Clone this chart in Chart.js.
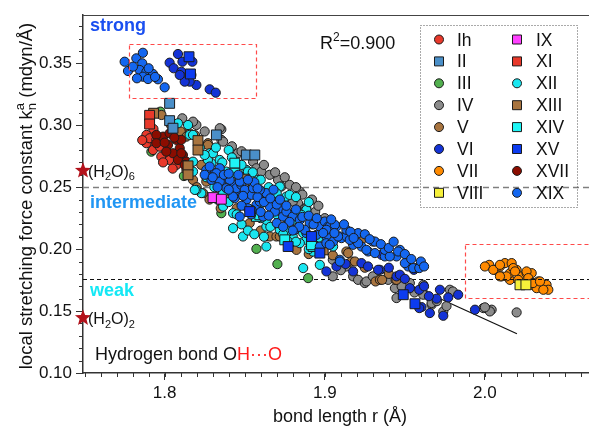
<!DOCTYPE html>
<html>
<head>
<meta charset="utf-8">
<title>OH···O local stretching force constants</title>
<script src="https://cdn.jsdelivr.net/npm/chart.js@4.4.1/dist/chart.umd.min.js"></script>
<style>
  html, body { margin: 0; padding: 0; background: #fff; }
  #wrap { width: 589px; height: 428px; }
</style>
</head>
<body>
<div id="wrap"><canvas id="chart" width="589" height="428"></canvas></div>
<script>
const FONT = "'Liberation Sans', Arial, sans-serif";

// axis ticks
const xTickValues = [1.8, 1.9, 2.0];
const yTickValues = [0.10, 0.15, 0.20, 0.25, 0.30, 0.35];

// strong / intermediate / weak limits on k
const strongLimit = 0.25;
const weakLimit = 0.176;

// water clusters marked on the k axis
const refNames = ['6', '2'];
const refValues = [0.2634, 0.1444];

// linear fit of k against r
const fitSlope = -0.59;
const fitIntercept = 1.3235;
const fitRange = [1.93, 2.02];
const fitR2 = '0.900';

// ice phases: [r (Å), k (mdyn/Å)]
const ihPoints = [[1.7886,0.2922],[1.7917,0.2855],[1.7948,0.2908],[1.7886,0.2855],[1.7927,0.2800],[1.7969,0.2827],[1.8010,0.2774],[1.7906,0.2895],[1.7979,0.2747],[1.8031,0.2720],[1.8073,0.2680],[1.7948,0.2882],[1.7930,0.2970],[1.7860,0.2880],[1.7990,0.2700],[1.8050,0.2650]];
const iiPoints = [[1.8031,0.3177],[1.8031,0.3037],[1.8052,0.2976],[1.8323,0.2922],[1.8510,0.2760],[1.8563,0.2760]];
const iiiPoints = [[1.7973,0.3110],[1.8120,0.2590],[1.8354,0.2290],[1.8573,0.2002],[1.8704,0.1879],[1.8896,0.1766],[1.8800,0.2021],[1.8823,0.2020],[1.7917,0.2787],[1.8160,0.2640]];
const ivPoints = [[1.8110,0.3056],[1.8198,0.3002],[1.8177,0.3029],[1.8354,0.2967],[1.8344,0.2976],[1.8354,0.2882],[1.8365,0.2868],[1.8458,0.2774],[1.8510,0.2760],[1.8552,0.2706],[1.8573,0.2653],[1.8604,0.2626],[1.8656,0.2600],[1.8708,0.2559],[1.8729,0.2505],[1.8780,0.2519],[1.8780,0.2424],[1.8833,0.2371],[1.8844,0.2465],[1.8800,0.2384],[1.8875,0.2330],[1.8885,0.2330],[1.8940,0.2300],[1.9000,0.2250],
  [1.8250,0.2950],[1.8420,0.2830],[1.8480,0.2790],[1.8620,0.2680],[1.8690,0.2620],[1.8750,0.2580],[1.8820,0.2500],[1.8860,0.2440],[1.8920,0.2400],[1.8960,0.2350],
  [1.9050,0.1914],[1.9135,0.1860],[1.9177,0.1780],[1.9208,0.1752],[1.9250,0.1726],[1.9260,0.1739],[1.9396,0.1752],[1.9438,0.1685],[1.9448,0.1605],[1.9531,0.1726],[1.9615,0.1712],[1.9615,0.1645],[1.9615,0.1632],[1.9667,0.1551],[1.9667,0.1565],[1.9740,0.1497],[1.9781,0.1672],[1.9800,0.1658],[1.9990,0.1524],[2.0042,0.1511],[2.0031,0.1497],[2.0000,0.1530],[2.0198,0.1489],[1.9050,0.1780],
  [1.9100,0.1830],[1.9300,0.1780],[1.9480,0.1700],[1.9560,0.1650],[1.9700,0.1580],[1.9760,0.1540]];
const vPoints = [[1.7980,0.3083],[1.8114,0.2935],[1.8136,0.2935],[1.8156,0.2935],[1.8100,0.2950],[1.8136,0.2908],[1.8270,0.2855],[1.8270,0.2841],[1.8136,0.2640],[1.8229,0.2680],[1.8260,0.2545],[1.8177,0.2559],[1.8510,0.2573],[1.8531,0.2210],[1.8656,0.2102],[1.8698,0.2102],[1.8719,0.2102],[1.8823,0.1994],[1.8990,0.2020],[1.9229,0.2075],[1.9135,0.1981],[1.9146,0.1968],[1.9167,0.1900],[1.9188,0.1900],[1.9317,0.1739],[1.9344,0.1752],[1.9358,0.1752],[1.9442,0.1752],[1.9448,0.1752],[1.8400,0.2420],[1.8450,0.2330],[1.8240,0.2452],[1.8200,0.2500],
  [1.8280,0.2400],[1.8350,0.2330],[1.8600,0.2150],[1.8780,0.2050],[1.8900,0.1960],[1.9050,0.1950],[1.9250,0.1850],[1.9400,0.1800],[1.8040,0.3000],[1.8190,0.2920]];
const viPoints = [[1.8083,0.3575],[1.8031,0.3505],[1.8111,0.3513],[1.8056,0.3460],[1.8104,0.3432],[1.8136,0.3387],[1.8167,0.3406],[1.8198,0.3325],[1.8156,0.3352],[1.8173,0.3513],[1.8281,0.3290],[1.8319,0.3263],[1.8125,0.3352],[1.8094,0.3406],
  [1.9010,0.1820],[1.9229,0.1887],[1.9344,0.1833],[1.9448,0.1780],[1.9531,0.1685],[1.9604,0.1532],[1.9656,0.1484],[1.9740,0.1462],[1.9719,0.1672],[1.9771,0.1610],[1.9833,0.1632],[1.9938,0.1511],[1.9354,0.1954],[1.9177,0.1820],[1.9469,0.1793],[1.9590,0.1672],[1.9333,0.1833],[1.9556,0.1833],[1.9698,0.1600],[1.9590,0.1524],[1.9073,0.1860],
  [1.9130,0.1880],[1.9270,0.1860],[1.9400,0.1850],[1.9500,0.1760],[1.9620,0.1700],[1.9650,0.1620]];
const viiPoints = [[2.0027,0.1873],[2.0063,0.1833],[2.0094,0.1860],[2.0125,0.1887],[2.0167,0.1887],[2.0104,0.1780],[2.0156,0.1752],[2.0156,0.1806],[2.0198,0.1833],[2.0229,0.1780],[2.0260,0.1806],[2.0292,0.1806],[2.0292,0.1712],[2.0333,0.1739],[2.0354,0.1685],[2.0385,0.1712],[2.0396,0.1672],[2.0323,0.1685],[2.0000,0.1860],[2.0177,0.1847],[2.0135,0.1780],[2.0052,0.1833],[2.0094,0.1873],[2.0188,0.1820],[2.0094,0.1780],[2.0260,0.1820],[2.0271,0.1766],[2.0300,0.1726],[2.0365,0.1672],[2.0344,0.1739],[2.0208,0.1752]];
const viiiPoints = [[2.0219,0.1712],[2.0256,0.1712]];
const ixPoints = [[1.8302,0.2416],[1.8354,0.2403]];
const xiPoints = [[1.7906,0.3080],[1.7906,0.3010]];
const xiiPoints = [[1.8083,0.3016],[1.8156,0.2922],[1.8146,0.3002],[1.8177,0.2922],[1.8281,0.2774],[1.8292,0.2694],[1.8344,0.2720],[1.8177,0.2706],[1.8177,0.2626],[1.8385,0.2626],[1.8510,0.2640],[1.8469,0.2559],[1.8365,0.2452],[1.8229,0.2452],[1.8198,0.2478],[1.8270,0.2720],[1.8302,0.2774],[1.8188,0.2478],[1.8365,0.2344],[1.8427,0.2290],[1.8510,0.2452],[1.8604,0.2371],[1.8677,0.2398],[1.8635,0.2182],[1.8760,0.2424],[1.8719,0.2505],[1.8800,0.2236],[1.8865,0.2129],[1.8885,0.2317],[1.8520,0.2626],[1.8583,0.2559],[1.8688,0.2452],[1.8780,0.2438],[1.8594,0.2303],[1.8635,0.2236],[1.8719,0.2156],[1.8800,0.2102],[1.8885,0.2075],[1.8948,0.2048],[1.9052,0.2021],[1.8854,0.2277],[1.8635,0.2021],[1.8427,0.2169],[1.8489,0.2102],[1.8771,0.2061],[1.8865,0.1847],[1.8844,0.2048],[1.8927,0.1980],[1.8969,0.1873],[1.8771,0.2142],
  [1.8220,0.2820],[1.8250,0.2760],[1.8320,0.2820],[1.8400,0.2800],[1.8260,0.2580],[1.8310,0.2500],[1.8330,0.2400],[1.8400,0.2380],[1.8450,0.2280],[1.8480,0.2200],[1.8520,0.2150],[1.8560,0.2120],[1.8600,0.2250],[1.8620,0.2100],[1.8700,0.2280],[1.8660,0.2180],[1.8740,0.2120],[1.8820,0.2060],[1.8900,0.2000],[1.8960,0.2090],[1.8480,0.2680],[1.8550,0.2620],[1.8600,0.2560],[1.8650,0.2500],[1.8700,0.2450],[1.8820,0.2420],[1.8900,0.2380],[1.8920,0.2200],[1.8360,0.2700],[1.8420,0.2740]];
const xiiiPoints = [[1.7931,0.3097],[1.8208,0.2876],[1.8208,0.2800],[1.8146,0.2672],[1.8146,0.2600],[1.8500,0.2565],[1.8990,0.1994]];
const xivPoints = [[1.8438,0.2694],[1.8438,0.2613],[1.8573,0.2264],[1.8594,0.2277],[1.8771,0.2264],[1.8750,0.2075],[1.8927,0.2021],[1.8917,0.2035]];
const xvPoints = [[1.8152,0.3553],[1.8161,0.3414],[1.8531,0.2303],[1.8771,0.2021],[1.8969,0.1968],[1.9490,0.1632],[1.9563,0.1559],[1.8917,0.2102]];
const xviiPoints = [[1.7990,0.2908],[1.8031,0.2935],[1.8073,0.2882],[1.8021,0.2841],[1.8094,0.2815],[1.8052,0.2774],[1.8114,0.2760],[1.8083,0.2720],[1.7948,0.2922],[1.7948,0.2855],[1.8136,0.2706],[1.8104,0.2882],[1.8125,0.2680],[1.8104,0.2774],[1.8010,0.2787],[1.8000,0.2860],[1.8060,0.2900]];
const xixPoints = [[1.7750,0.3513],[1.7771,0.3438],[1.7823,0.3540],[1.7864,0.3585],[1.7860,0.3500],[1.7844,0.3446],[1.7886,0.3432],[1.7864,0.3392],[1.7927,0.3414],[1.7958,0.3371],[1.8000,0.3306],[1.7827,0.3379],[1.7896,0.3373],[1.7802,0.3473],[1.7900,0.3460],[1.7940,0.3390],
  [1.8260,0.2640],[1.8313,0.2613],[1.8344,0.2653],[1.8292,0.2559],[1.8354,0.2545],[1.8417,0.2532],[1.8448,0.2478],[1.8438,0.2411],[1.8531,0.2478],[1.8281,0.2667],[1.8323,0.2613],[1.8344,0.2545],[1.8406,0.2559],[1.8448,0.2492],[1.8427,0.2424],[1.8479,0.2519],[1.8510,0.2398],[1.8542,0.2438],[1.8573,0.2357],[1.8625,0.2452],[1.8656,0.2344],[1.8469,0.2263],[1.8542,0.2317],[1.8615,0.2263],[1.8719,0.2317],[1.8739,0.2263],[1.8792,0.2277],[1.8813,0.2156],[1.8885,0.2129],[1.8969,0.2182],[1.9010,0.2102],[1.8969,0.2021],[1.8250,0.2600],[1.8385,0.2492],[1.8500,0.2478],[1.8552,0.2492],[1.8594,0.2384],[1.8635,0.2452],[1.8688,0.2303],[1.8760,0.2303],[1.8800,0.2263],[1.8844,0.2236],[1.8906,0.2210],[1.8875,0.2156],[1.9000,0.2223],[1.9021,0.2182],[1.9073,0.2182],[1.9094,0.2102],[1.8948,0.2115],[1.9010,0.2048],[1.8469,0.2545],[1.8594,0.2478],[1.8520,0.2330],[1.9031,0.2182],[1.9063,0.2196],[1.9104,0.2089],[1.9052,0.2061],[1.9177,0.2035],[1.9229,0.2021],[1.9300,0.2061],[1.9271,0.1981],[1.9375,0.1941],[1.9448,0.1941],[1.9469,0.1994],[1.9521,0.1860],[1.9573,0.1847],[1.9094,0.1914],[1.9208,0.2129],[1.9010,0.2156],[1.9135,0.2102],[1.9135,0.2156],[1.9083,0.2102],[1.9156,0.2075],[1.9208,0.2048],[1.9313,0.2061],[1.9260,0.1994],[1.9313,0.1968],[1.9375,0.1994],[1.9406,0.1941],[1.9458,0.1981],[1.9500,0.1887],[1.9552,0.1847],[1.9590,0.1847],[1.9094,0.1900],[1.9031,0.2035],
  [1.8300,0.2580],[1.8370,0.2600],[1.8400,0.2480],[1.8460,0.2600],[1.8490,0.2430],[1.8560,0.2540],[1.8580,0.2420],[1.8620,0.2380],[1.8660,0.2410],[1.8680,0.2480],[1.8700,0.2360],[1.8720,0.2400],[1.8760,0.2350],[1.8780,0.2220],[1.8820,0.2320],[1.8840,0.2180],[1.8860,0.2260],[1.8900,0.2270],[1.8930,0.2200],[1.8950,0.2250],[1.8990,0.2130],[1.9040,0.2240],[1.9060,0.2130],[1.9120,0.2200],[1.9160,0.2140],[1.9180,0.2090],[1.9250,0.2120],[1.9280,0.2080],[1.9350,0.2040],[1.9400,0.2010],[1.9430,0.2060],[1.9500,0.1960],[1.9540,0.1920],[1.9600,0.1900],[1.9620,0.1860],[1.8600,0.2300],[1.8650,0.2270],[1.8700,0.2210],[1.8740,0.2180],[1.8800,0.2150],[1.8580,0.2490],[1.8520,0.2560],[1.8400,0.2610],[1.8330,0.2500],[1.8480,0.2350],[1.8540,0.2280]];

const pointSets = {
  Ih: ihPoints, II: iiPoints, III: iiiPoints, IV: ivPoints, V: vPoints, VI: viPoints,
  VII: viiPoints, VIII: viiiPoints, IX: ixPoints, XI: xiPoints, XII: xiiPoints,
  XIII: xiiiPoints, XIV: xivPoints, XV: xvPoints, XVII: xviiPoints, XIX: xixPoints
};

// marker look per phase; lower layer is painted on top
const styles = {
  Ih:   { color: '#e8392b', shape: 'circle', layer: 13 },
  II:   { color: '#4a8fc8', shape: 'rect',   layer: 9 },
  III:  { color: '#52b04f', shape: 'circle', layer: 15 },
  IV:   { color: '#8c8c8c', shape: 'circle', layer: 16 },
  V:    { color: '#a8743f', shape: 'circle', layer: 14 },
  VI:   { color: '#1433d6', shape: 'circle', layer: 6 },
  VII:  { color: '#ff8a00', shape: 'circle', layer: 2 },
  VIII: { color: '#f6f03a', shape: 'rect',   layer: 1 },
  IX:   { color: '#ff40ff', shape: 'rect',   layer: 3 },
  XI:   { color: '#e8392b', shape: 'rect',   layer: 8 },
  XII:  { color: '#19e6f0', shape: 'circle', layer: 11 },
  XIII: { color: '#a8743f', shape: 'rect',   layer: 10 },
  XIV:  { color: '#1ff5f5', shape: 'rect',   layer: 7 },
  XV:   { color: '#0c3cf0', shape: 'rect',   layer: 4 },
  XVII: { color: '#8b0d00', shape: 'circle', layer: 12 },
  XIX:  { color: '#1467f0', shape: 'circle', layer: 5 }
};

const legendColumns = [
  ['Ih', 'II', 'III', 'IV', 'V', 'VI', 'VII', 'VIII'],
  ['IX', 'XI', 'XII', 'XIII', 'XIV', 'XV', 'XVII', 'XIX']
];

// dashed frames around the strong and weak groups [rMin, rMax, kMin, kMax]
const strongBox = [1.778, 1.857, 0.322, 0.3656];
const weakBox = [1.9875, 2.08, 0.1605, 0.204];

const datasets = Object.keys(pointSets).map(name => {
  const st = styles[name];
  return {
    type: 'scatter',
    label: name,
    data: pointSets[name].map(p => ({ x: p[0], y: p[1] })),
    pointStyle: st.shape,
    pointRadius: st.shape === 'rect' ? 7 : 4.6,
    pointHoverRadius: st.shape === 'rect' ? 7 : 4.6,
    backgroundColor: st.color,
    borderColor: '#1b1b1b',
    borderWidth: 1,
    order: st.layer
  };
});

datasets.push({
  type: 'line',
  label: 'fit',
  data: fitRange.map(r => ({ x: r, y: fitIntercept + fitSlope * r })),
  borderColor: '#111',
  borderWidth: 1.2,
  pointRadius: 0,
  order: 100
});

// text with sub/superscript pieces, left to right from (x, baseline)
function drawRuns(ctx, x, y, runs, size, color) {
  ctx.textAlign = 'left';
  ctx.textBaseline = 'alphabetic';
  let advance = 0;
  runs.forEach(r => {
    const small = r.sub || r.sup;
    const fs = small ? Math.round(size * 0.68) : size;
    ctx.font = (r.bold ? 'bold ' : '') + fs + 'px ' + FONT;
    ctx.fillStyle = r.color || color;
    const dy = r.sup ? -size * 0.42 : (r.sub ? size * 0.24 : 0);
    ctx.fillText(r.t, x, y + dy);
    const w = ctx.measureText(r.t).width;
    if (r.stack) {
      advance = Math.max(advance, w);
    } else {
      x += Math.max(w, advance);
      advance = 0;
    }
  });
  return x;
}

function runsWidth(ctx, runs, size) {
  let w = 0, advance = 0;
  runs.forEach(r => {
    const fs = (r.sub || r.sup) ? Math.round(size * 0.68) : size;
    ctx.font = fs + 'px ' + FONT;
    const m = ctx.measureText(r.t).width;
    if (r.stack) advance = Math.max(advance, m);
    else { w += Math.max(m, advance); advance = 0; }
  });
  return w;
}

function drawMarker(ctx, shape, color, x, y) {
  ctx.save();
  ctx.fillStyle = color;
  ctx.strokeStyle = '#1b1b1b';
  ctx.lineWidth = 1;
  ctx.beginPath();
  if (shape === 'rect') ctx.rect(x - 4.5, y - 4.5, 9, 9);
  else ctx.arc(x, y, 4.5, 0, Math.PI * 2);
  ctx.fill();
  ctx.stroke();
  ctx.restore();
}

function drawStar(ctx, cx, cy, outer, inner, color) {
  ctx.save();
  ctx.fillStyle = color;
  ctx.beginPath();
  for (let i = 0; i < 10; i++) {
    const r = i % 2 === 0 ? outer : inner;
    const a = -Math.PI / 2 + i * Math.PI / 5;
    const px = cx + r * Math.cos(a), py = cy + r * Math.sin(a);
    if (i === 0) ctx.moveTo(px, py); else ctx.lineTo(px, py);
  }
  ctx.closePath();
  ctx.fill();
  ctx.restore();
}

// dashed horizontal line; the dash phase is always counted from the plot's left edge
function hLine(ctx, area, y, color, dash, width, x0, x1) {
  const start = x0 !== undefined ? x0 : area.left;
  ctx.save();
  ctx.strokeStyle = color;
  ctx.lineWidth = width;
  ctx.setLineDash(dash);
  ctx.lineDashOffset = start - area.left;
  ctx.beginPath();
  ctx.moveTo(start, y);
  ctx.lineTo(x1 !== undefined ? x1 : area.right, y);
  ctx.stroke();
  ctx.restore();
}

const decorations = {
  id: 'decorations',
  beforeDatasetsDraw(chart) {
    const { ctx, chartArea: a, scales: { y } } = chart;
    hLine(ctx, a, Math.round(y.getPixelForValue(strongLimit)) + 0.5, '#7f7f7f', [6, 4], 1.5);
    hLine(ctx, a, Math.round(y.getPixelForValue(weakLimit)) + 0.5, '#111', [4, 3], 1);
  },
  afterDatasetsDraw(chart) {
    const { ctx, chartArea: a, scales: { x, y } } = chart;
    ctx.save();
    ctx.strokeStyle = '#ff4a4a';
    ctx.lineWidth = 1.2;
    ctx.setLineDash([4, 3]);
    [strongBox, weakBox].forEach(b => {
      const x0 = x.getPixelForValue(b[0]), x1 = x.getPixelForValue(b[1]);
      const y0 = y.getPixelForValue(b[3]), y1 = y.getPixelForValue(b[2]);
      ctx.strokeRect(Math.round(x0) + 0.5, Math.round(y0) + 0.5, Math.round(x1 - x0), Math.round(y1 - y0));
    });
    ctx.restore();
    // weak limit stays visible across the weak group
    hLine(ctx, a, Math.round(y.getPixelForValue(weakLimit)) + 0.5, '#111', [4, 3], 1,
      Math.round(x.getPixelForValue(weakBox[0])), a.right);
  },
  afterDraw(chart) {
    const { ctx, chartArea: a, scales: { x, y } } = chart;

    // minor ticks every 0.01
    ctx.save();
    ctx.strokeStyle = '#333';
    ctx.lineWidth = 1;
    for (let i = 175; i <= 206; i++) {
      const px = Math.round(x.getPixelForValue(i / 100)) + 0.5;
      ctx.beginPath(); ctx.moveTo(px, a.bottom); ctx.lineTo(px, a.bottom + 4); ctx.stroke();
    }
    for (let i = 10; i <= 38; i++) {
      const py = Math.round(y.getPixelForValue(i / 100)) + 0.5;
      ctx.beginPath(); ctx.moveTo(a.left - 4, py); ctx.lineTo(a.left, py); ctx.stroke();
    }
    // top frame
    ctx.strokeStyle = '#444';
    ctx.lineWidth = 1.2;
    ctx.beginPath(); ctx.moveTo(a.left, a.top + 0.5); ctx.lineTo(a.right, a.top + 0.5); ctx.stroke();
    ctx.restore();

    // axis titles
    ctx.save();
    ctx.font = '18px ' + FONT;
    ctx.fillStyle = '#111';
    ctx.textAlign = 'center';
    ctx.textBaseline = 'alphabetic';
    ctx.fillText('bond length r (\u00C5)', 340, 422);
    ctx.restore();

    const yTitle = [
      { t: 'local stretching force constant k' },
      { t: 'a', sup: true, stack: true },
      { t: 'n', sub: true },
      { t: ' (mdyn/\u00C5)' }
    ];
    ctx.save();
    const tw = runsWidth(ctx, yTitle, 18.5);
    ctx.translate(32, 196 + tw / 2);
    ctx.rotate(-Math.PI / 2);
    drawRuns(ctx, 0, 0, yTitle, 18.5, '#111');
    ctx.restore();

    // region names
    ctx.save();
    ctx.font = 'bold 18px ' + FONT;
    ctx.textAlign = 'left';
    ctx.textBaseline = 'alphabetic';
    ctx.fillStyle = '#1a4ff0';
    ctx.fillText('strong', 90, 31);
    ctx.fillStyle = '#2196f3';
    ctx.fillText('intermediate', 90, 208);
    ctx.fillStyle = '#14e8f5';
    ctx.fillText('weak', 90, 296);
    ctx.restore();

    drawRuns(ctx, 95, 360, [
      { t: 'Hydrogen bond O' },
      { t: 'H\u00B7\u00B7\u00B7O', color: '#ff1a1a' }
    ], 18, '#111');

    drawRuns(ctx, 320, 49, [{ t: 'R' }, { t: '2', sup: true }, { t: '=' + fitR2 }], 18, '#111');

    // water cluster references on the k axis
    refValues.forEach((v, i) => {
      const py = y.getPixelForValue(v);
      drawStar(ctx, a.left, py, 8.5, 3.6, '#b3121b');
      drawRuns(ctx, a.left + 5, py + 6, [
        { t: '(H' }, { t: '2', sub: true }, { t: 'O)' }, { t: refNames[i], sub: true }
      ], 16, '#111');
    });

    // legend
    ctx.save();
    ctx.strokeStyle = '#555';
    ctx.lineWidth = 1;
    ctx.setLineDash([1, 2]);
    ctx.strokeRect(420.5, 25.5, 157, 182);
    ctx.restore();
    const colMarker = [439, 517], colText = [457, 536];
    legendColumns.forEach((col, c) => {
      col.forEach((name, r) => {
        const cy = 39.5 + r * 21.9;
        const st = styles[name];
        drawMarker(ctx, st.shape, st.color, colMarker[c], cy);
        ctx.font = '17.5px ' + FONT;
        ctx.fillStyle = '#111';
        ctx.textAlign = 'left';
        ctx.textBaseline = 'alphabetic';
        ctx.fillText(name, colText[c], cy + 6);
      });
    });
  }
};

new Chart(document.getElementById('chart'), {
  type: 'scatter',
  data: { datasets },
  options: {
    responsive: false,
    devicePixelRatio: 1,
    animation: false,
    layout: { autoPadding: false, padding: { top: 15, left: 0, right: 0, bottom: 0 } },
    plugins: { legend: { display: false }, tooltip: { enabled: false } },
    scales: {
      x: {
        type: 'linear',
        min: 1.749,
        max: 2.065,
        afterBuildTicks: s => { s.ticks = xTickValues.map(v => ({ value: v })); },
        afterFit: s => { s.height = 55; s.paddingLeft = 0; s.paddingRight = 0; },
        grid: { drawOnChartArea: false, drawTicks: true, tickLength: 7, color: '#333', lineWidth: 1 },
        border: { display: true, color: '#333', width: 1.5 },
        ticks: {
          font: { size: 17, family: FONT },
          color: '#111',
          padding: 3,
          maxRotation: 0,
          autoSkip: false,
          callback: v => Number(v).toFixed(1)
        }
      },
      y: {
        type: 'linear',
        min: 0.10,
        max: 0.389,
        afterBuildTicks: s => { s.ticks = yTickValues.map(v => ({ value: v })); },
        afterFit: s => { s.width = 83; s.paddingTop = 0; s.paddingBottom = 0; },
        grid: { drawOnChartArea: false, drawTicks: true, tickLength: 7, color: '#333', lineWidth: 1 },
        border: { display: true, color: '#333', width: 1.5 },
        ticks: {
          font: { size: 17, family: FONT },
          color: '#111',
          padding: 4,
          autoSkip: false,
          callback: v => Number(v).toFixed(2)
        }
      }
    }
  },
  plugins: [decorations]
});
</script>
</body>
</html>
